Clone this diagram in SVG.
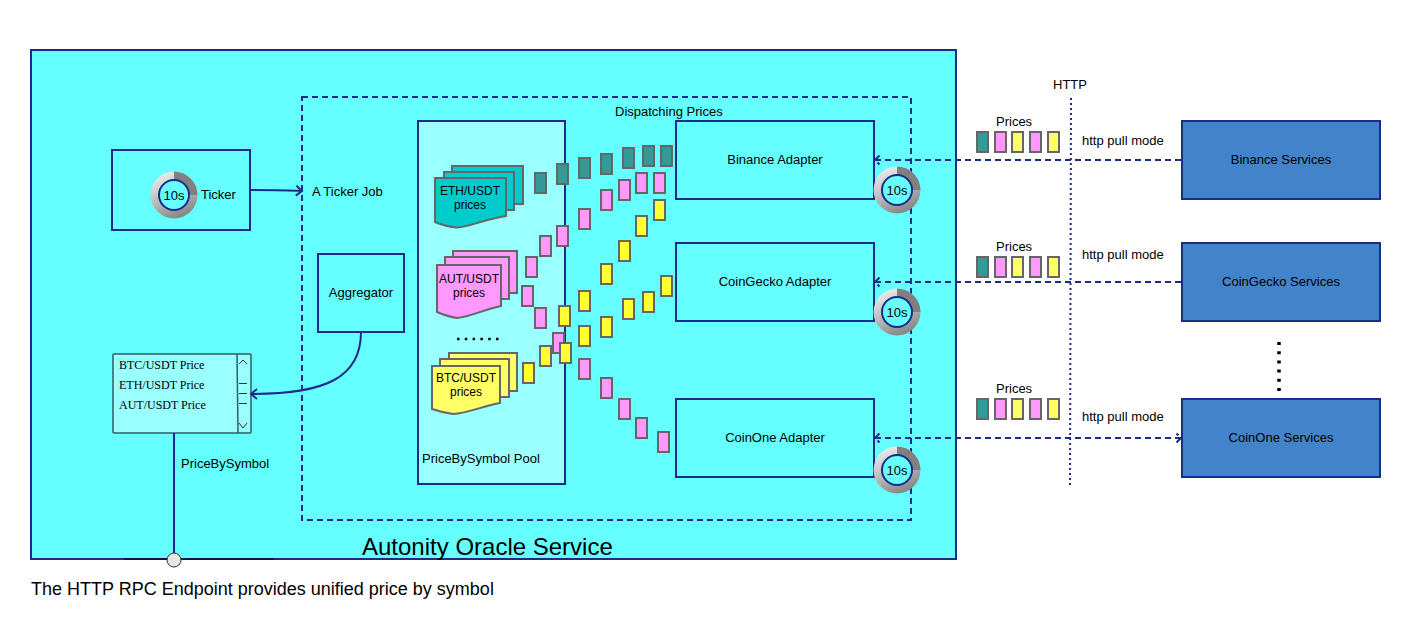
<svg xmlns="http://www.w3.org/2000/svg" width="1407" height="620" viewBox="0 0 1407 620">
<style>
text{font-family:"Liberation Sans",Arial,sans-serif;font-size:13px;fill:#000}
.c{text-anchor:middle}
.s12{font-size:12px}
.serif{font-family:"Liberation Serif","Times New Roman",serif;font-size:12px}
.box{fill:#66ffff;stroke:#1b2b8a;stroke-width:2}
.svc{fill:#4283c9;stroke:#1b2b8a;stroke-width:2}
.ln{fill:none;stroke:#1b2b8a;stroke-width:2}
.dash{fill:none;stroke:#1b2b8a;stroke-width:2;stroke-dasharray:6 4}
.dot{fill:none;stroke:#1b2b8a;stroke-width:2;stroke-dasharray:2 3}
.t{stroke:#666;stroke-width:2;fill:#339999}
.p{stroke:#666;stroke-width:2;fill:#ff99ff}
.y{stroke:#666;stroke-width:2;fill:#ffff33}
.yl{stroke:#666;stroke-width:2;fill:#ffff66}
.sE{fill:#00cccc;stroke:#666;stroke-width:2}
.sA{fill:#ff99ff;stroke:#666;stroke-width:2}
.sB{fill:#ffff66;stroke:#666;stroke-width:2}
</style>
<defs>
<linearGradient id="ring" x1="0.25" y1="0" x2="0.7" y2="1"><stop offset="0" stop-color="#eeeeee"/><stop offset="0.5" stop-color="#bbbbbb"/><stop offset="1" stop-color="#808080"/></linearGradient>
<marker id="open" markerWidth="10" markerHeight="12" refX="7" refY="6" orient="auto-start-reverse" markerUnits="userSpaceOnUse"><path d="M1,1 L7,6 L1,11" fill="none" stroke="#1b2b8a" stroke-width="2"/></marker>
<marker id="open-s" markerWidth="10" markerHeight="12" refX="7" refY="6" orient="auto-start-reverse" markerUnits="userSpaceOnUse"><path d="M2.500,1.500 L4.500,3.500 M7,6 L2.500,10.500" fill="none" stroke="#1b2b8a" stroke-width="2"/></marker>
<g id="timer">
<circle r="23.5" fill="url(#ring)"/>
<path d="M0,-23.5 A23.5,23.5 0 0 1 23.5,0 H15 A15,15 0 0 0 0,-15 Z" fill="#808080"/>
<circle r="15" fill="#66ffff" stroke="#1b2b8a" stroke-width="2"/>
<text class="c" y="5">10s</text>
</g>
<rect id="tk" width="11" height="20"/>
</defs>

<g id="service"><rect class="box" x="31" y="50" width="925" height="509"/></g>
<g id="dispatch"><rect class="dash" x="302" y="97" width="609" height="423"/><text x="615" y="116">Dispatching Prices</text></g>
<g id="pool"><rect x="418" y="121" width="147" height="363" fill="#99ffff" stroke="#1b2b8a" stroke-width="2"/><text x="422" y="463">PriceBySymbol Pool</text></g>

<g id="ticker"><rect class="box" x="112" y="150" width="138" height="80"/><use href="#timer" x="174" y="195"/><text x="201" y="199">Ticker</text></g>
<g id="ticker-job"><text x="312" y="196">A Ticker Job</text></g>
<g id="aggregator"><rect class="box" x="318" y="254" width="86" height="78"/><text class="c" x="361" y="297">Aggregator</text></g>

<g id="price-list">
<rect x="113" y="354" width="138" height="79" rx="1" fill="#99ffff" stroke="#2f5f66" stroke-width="1.5"/>
<path d="M237,354 L238,433" fill="none" stroke="#2f5f66" stroke-width="1.5"/>
<path d="M239,364 L243,360 L247,364 M239,423 L243,428 L247,423 M239,383.500 H247 M239,393.500 H247 M239,403.500 H247" fill="none" stroke="#333" stroke-width="1"/>
<text class="serif" x="119" y="369">BTC/USDT Price</text>
<text class="serif" x="119" y="389">ETH/USDT Price</text>
<text class="serif" x="119" y="409">AUT/USDT Price</text>
</g>
<g id="eth-stack">
<rect class="sE" x="452" y="166" width="71" height="38"/><rect class="sE" x="444" y="172" width="70" height="38"/>
<path class="sE" d="M435,178 H506 V216 C485,219 470,227 457,227.500 C450,227 442,225 435,222 Z"/>
<text class="c s12" x="470" y="195">ETH/USDT</text><text class="c s12" x="470" y="209">prices</text>
</g>
<g id="aut-stack">
<rect class="sA" x="453" y="251" width="64" height="42"/><rect class="sA" x="445" y="257" width="64" height="42"/>
<path class="sA" d="M437,265 H501 V306 C485,309 470,317 457,318 C450,317 444,315 437,312 Z"/>
<text class="c s12" x="469" y="283">AUT/USDT</text><text class="c s12" x="469" y="297">prices</text>
</g>
<g id="btc-stack">
<rect class="sB" x="449" y="353" width="68" height="38"/><rect class="sB" x="440" y="359" width="69" height="38"/>
<path class="sB" d="M432,366 H500 V403 C483,406 468,413 453,414 C446,413 438,411 432,409 Z"/>
<text class="c s12" x="466" y="382">BTC/USDT</text><text class="c s12" x="466" y="396">prices</text>
</g>
<g id="ellipsis"><path d="M457,339 H499" fill="none" stroke="#000" stroke-width="2.500" stroke-dasharray="2.500 5.300"/></g>

<g id="tokens">
<g class="t"><use href="#tk" x="535" y="173"/><use href="#tk" x="557" y="164"/><use href="#tk" x="579" y="158"/><use href="#tk" x="601" y="154"/><use href="#tk" x="623" y="148"/><use href="#tk" x="643" y="146"/><use href="#tk" x="661" y="146"/></g>
<g class="p"><use href="#tk" x="522" y="286"/><use href="#tk" x="526" y="257"/><use href="#tk" x="540" y="236"/><use href="#tk" x="557" y="226"/><use href="#tk" x="579" y="209"/><use href="#tk" x="601" y="190"/><use href="#tk" x="619" y="180"/><use href="#tk" x="636" y="173"/><use href="#tk" x="654" y="173"/>
<use href="#tk" x="535" y="308"/><use href="#tk" x="553" y="333"/><use href="#tk" x="579" y="359"/><use href="#tk" x="601" y="378"/><use href="#tk" x="619" y="399"/><use href="#tk" x="636" y="418"/><use href="#tk" x="658" y="432"/></g>
<g class="y"><use href="#tk" x="559" y="306"/><use href="#tk" x="579" y="291"/><use href="#tk" x="601" y="264"/><use href="#tk" x="619" y="241"/><use href="#tk" x="636" y="216"/><use href="#tk" x="654" y="200"/>
<use href="#tk" x="523" y="363"/><use href="#tk" x="540" y="346"/><use href="#tk" x="560" y="343"/><use href="#tk" x="579" y="326"/><use href="#tk" x="601" y="317"/><use href="#tk" x="623" y="299"/><use href="#tk" x="643" y="292"/><use href="#tk" x="661" y="276"/></g>
</g>

<g id="adapter-binance"><rect class="box" x="676" y="121" width="198" height="78"/><text class="c" x="775" y="164">Binance Adapter</text></g>
<g id="adapter-coingecko"><rect class="box" x="676" y="243" width="198" height="78"/><text class="c" x="775" y="286">CoinGecko Adapter</text></g>
<g id="adapter-coinone"><rect class="box" x="676" y="399" width="198" height="78"/><text class="c" x="775" y="442">CoinOne Adapter</text></g>

<g id="connectors">
<path class="ln" d="M250,190 C270,190 285,190 302,191" marker-end="url(#open)"/>
<path class="ln" d="M361,332 C361,378 325,394 251,394" marker-end="url(#open)"/>
<path class="ln" d="M174,433 V553"/>
<path d="M124,559 H274" fill="none" stroke="#000" stroke-width="1"/>
<path class="dash" d="M1181,160 H875" marker-end="url(#open-s)"/>
<path class="dash" d="M1181,282 H875" marker-end="url(#open-s)"/>
<path class="dash" d="M875,438 H1181" marker-start="url(#open-s)" marker-end="url(#open-s)"/>
<path class="dot" d="M1071,98 L1070,486"/>
</g>

<g id="timer-1"><use href="#timer" x="897" y="190"/></g>
<g id="timer-2"><use href="#timer" x="897" y="312"/></g>
<g id="timer-3"><use href="#timer" x="897" y="470"/></g>
<g id="endpoint"><circle cx="174" cy="560" r="7" fill="#e6e6e6" stroke="#333" stroke-width="1"/></g>

<g id="http-label"><text class="c" x="1070" y="89">HTTP</text></g>
<g id="prices-1"><text x="996" y="126">Prices</text><use href="#tk" class="t" x="977" y="132"/><use href="#tk" class="p" x="995" y="132"/><use href="#tk" class="yl" x="1012" y="132"/><use href="#tk" class="p" x="1030" y="132"/><use href="#tk" class="yl" x="1048" y="132"/><text x="1082" y="145">http pull mode</text></g>
<g id="prices-2"><text x="996" y="251">Prices</text><use href="#tk" class="t" x="977" y="257"/><use href="#tk" class="p" x="995" y="257"/><use href="#tk" class="yl" x="1012" y="257"/><use href="#tk" class="p" x="1030" y="257"/><use href="#tk" class="yl" x="1048" y="257"/><text x="1082" y="259">http pull mode</text></g>
<g id="prices-3"><text x="996" y="393">Prices</text><use href="#tk" class="t" x="977" y="399"/><use href="#tk" class="p" x="995" y="399"/><use href="#tk" class="yl" x="1012" y="399"/><use href="#tk" class="p" x="1030" y="399"/><use href="#tk" class="yl" x="1048" y="399"/><text x="1082" y="421">http pull mode</text></g>

<g id="svc-binance"><rect class="svc" x="1182" y="121" width="198" height="78"/><text class="c" x="1281" y="164">Binance Services</text></g>
<g id="svc-coingecko"><rect class="svc" x="1182" y="243" width="198" height="78"/><text class="c" x="1281" y="286">CoinGecko Services</text></g>
<g id="svc-coinone"><rect class="svc" x="1182" y="399" width="198" height="78"/><text class="c" x="1281" y="442">CoinOne Services</text></g>
<g id="svc-dots"><path d="M1279,342 V392" fill="none" stroke="#000" stroke-width="3.500" stroke-dasharray="3 6.200"/></g>

<text x="181" y="468">PriceBySymbol</text>
<text x="362" y="555" style="font-size:24px">Autonity Oracle Service</text>
<text x="31" y="595" style="font-size:18px">The HTTP RPC Endpoint provides unified price by symbol</text>
</svg>
